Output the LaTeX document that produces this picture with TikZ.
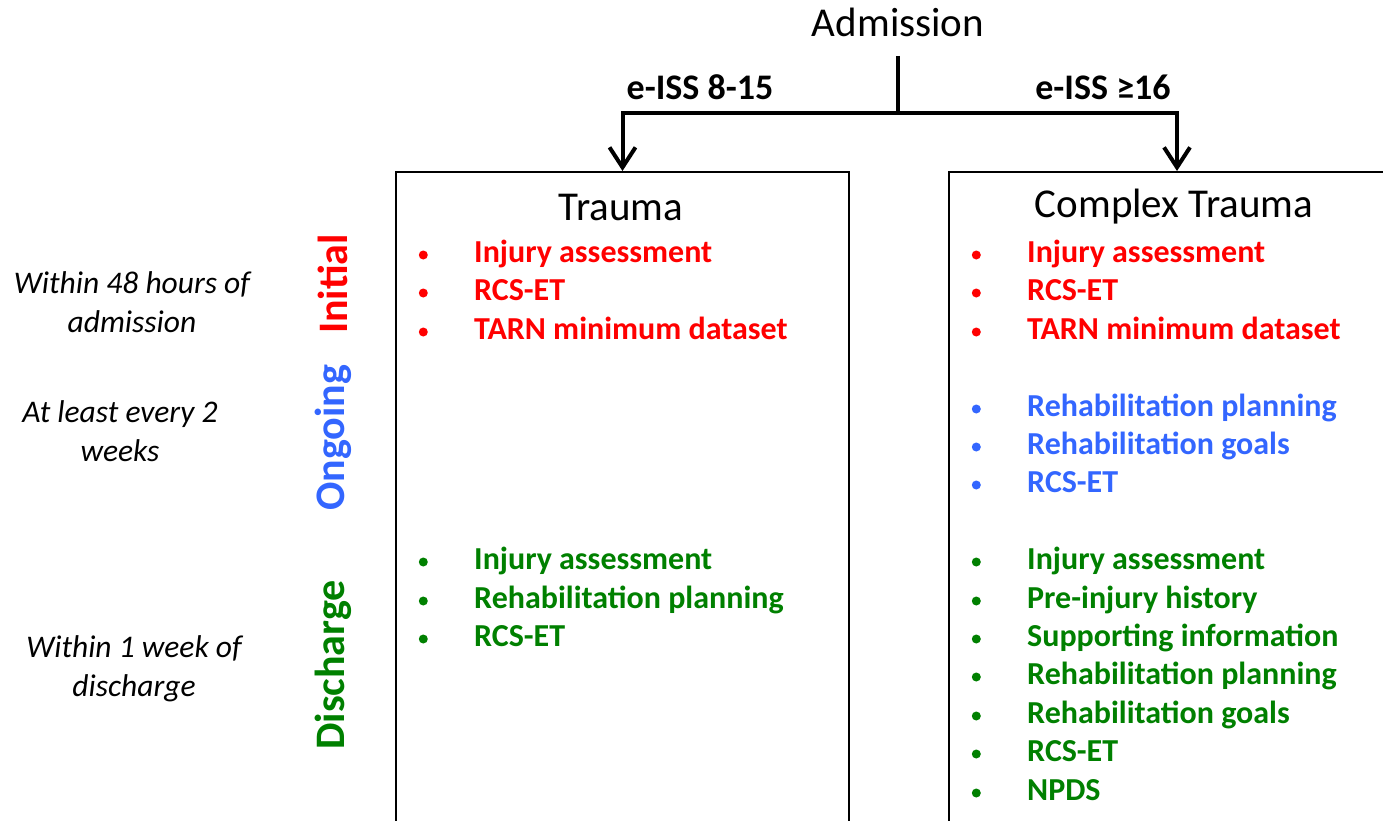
\documentclass[tikz,border=0pt]{standalone}
\usepackage{fontspec}
\setmainfont{Carlito}
\usetikzlibrary{arrows.meta,positioning}
\definecolor{initred}{RGB}{255,0,0}
\definecolor{ongoblue}{RGB}{51,102,255}
\definecolor{discgreen}{RGB}{0,128,0}

\begin{document}
\begin{tikzpicture}[
        x=1pt, y=-1pt,
        flow/.style={black, line width=4pt, line join=miter},
        arr/.style={flow, -{Straight Barb[length=20pt,width=26pt,line width=4pt]}},
        box/.style={draw=black, line width=2pt, minimum width=453pt,
            minimum height=700pt, anchor=north west, inner sep=0pt},
        title/.style={font=\fontsize{41}{49}\selectfont},
        eiss/.style={font=\bfseries\fontsize{36}{42}\selectfont},
        item/.style={anchor=west, inner sep=0pt, text height=22pt, text depth=7pt,
            font=\bfseries\fontsize{32}{38}\selectfont},
        red/.style={item, initred, label={[dot, fill=initred]left:{}}},
        blue/.style={item, ongoblue, label={[dot, fill=ongoblue]left:{}}},
        green/.style={item, discgreen, label={[dot, fill=discgreen]left:{}}},
        dot/.style={circle, minimum size=9pt, inner sep=0pt, label distance=46pt},
        phase/.style={font=\bfseries\fontsize{42}{50}\selectfont, rotate=90},
        when/.style={font=\itshape\fontsize{31.5}{39}\selectfont, align=center},
        every node/.style={color=black},
    ]
    \useasboundingbox (0,0) rectangle (1383,821);
    \clip (0,0) rectangle (1383,821);
    % header
    \node[title] (admission) at (898,22) {Admission};
    \coordinate (split) at (898,113);
    \node[eiss] (low) at (700,87) {e-ISS 8-15};
    \node[eiss] (high) at (1103,87) {e-ISS ≥16};
    % boxes
    \node[box] (trauma) at (395,171) {};
    \node[box, minimum width=456pt] (complex) at (948,171) {};
    \node[title] (traumat) at (621,207) {Trauma};
    \node[title] (complext) at (1174,207) {Complex Trauma};
    \draw[flow, shorten <=16pt] (admission.south) -- (split);
    \draw[arr] (split) -| (trauma.north);
    \draw[arr] (split) -| (complex.north);
    % phases
    \node[phase, initred] (initial) at (333,284) {Initial};
    \node[phase, ongoblue] (ongoing) at (333,438) {Ongoing};
    \node[phase, discgreen] (discharge) at (333,665) {Discharge};
    \node[when] (w1) at (132,302) {Within 48 hours of\\admission};
    \node[when] (w2) at (120,431) {At least every 2\\weeks};
    \node[when] (w3) at (134,669) {Within 1 week of\\discharge};
    % trauma items
    \node[red] (t1) at (474,255) {Injury assessment};
    \node[red] (t2) at (474,293) {RCS-ET};
    \node[red] (t3) at (474,332) {TARN minimum dataset};
    \node[green] (t4) at (474,562) {Injury assessment};
    \node[green] (t5) at (474,601) {Rehabilitation planning};
    \node[green] (t6) at (474,639) {RCS-ET};
    % complex trauma items
    \node[red] (c1) at (1027,255) {Injury assessment};
    \node[red] (c2) at (1027,293) {RCS-ET};
    \node[red] (c3) at (1027,332) {TARN minimum dataset};
    \node[blue] (c4) at (1027,409) {Rehabilitation planning};
    \node[blue] (c5) at (1027,447) {Rehabilitation goals};
    \node[blue] (c6) at (1027,485) {RCS-ET};
    \node[green] (c7) at (1027,562) {Injury assessment};
    \node[green] (c8) at (1027,601) {Pre-injury history};
    \node[green] (c9) at (1027,639) {Supporting information};
    \node[green] (c10) at (1027,677) {Rehabilitation planning};
    \node[green] (c11) at (1027,716) {Rehabilitation goals};
    \node[green] (c12) at (1027,754) {RCS-ET};
    \node[green] (c13) at (1027,793) {NPDS};
\end{tikzpicture}
\end{document}
